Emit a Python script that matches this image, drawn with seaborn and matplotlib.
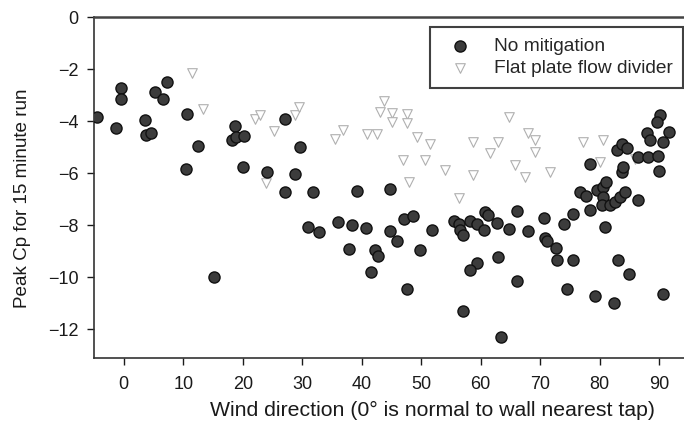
import numpy as np
import pandas as pd
import matplotlib
matplotlib.use("Agg")
import matplotlib.pyplot as plt
import seaborn as sns

# ---- data ----
nomit_x = [-4.5, -1.3, -0.5, -0.4, 3.5, 3.8, 4.6, 5.3, 6.6, 7.2, 10.6, 12.5, 10.5, 15.1,
           18.7, 18.2, 18.9, 20.3, 20.1, 24.1, 27.1, 27.1, 29.7, 28.8, 31.9, 31.0, 32.8,
           36.1, 38.4, 39.3, 40.8, 37.9, 42.3, 42.7, 41.6, 44.7, 44.8, 46.0, 47.2, 48.7,
           49.8, 47.6, 51.8, 55.5, 56.3, 56.6, 57.0, 58.2, 59.4, 60.5, 60.8, 61.3, 62.8,
           64.8, 66.1, 67.9, 70.7, 70.8, 71.2, 72.7, 72.9, 75.5, 74.0, 75.6, 78.4, 76.7,
           77.8, 79.5, 80.5, 81.1, 80.6, 80.4, 81.8, 82.6, 83.4, 84.3, 86.5, 80.9, 78.4,
           83.7, 84.0, 90.0, 86.5, 88.2, 89.9, 82.9, 83.7, 84.6, 87.9, 88.5, 90.6, 91.7,
           90.2, 89.7, 63.0, 59.4, 58.2, 57.0, 66.1, 74.6, 79.2, 82.4, 83.1, 84.9, 90.6,
           63.4]
nomit_y = [-3.86, -4.28, -2.72, -3.15, -3.97, -4.54, -4.47, -2.88, -3.14, -2.51, -3.72, -4.94,
           -5.85, -9.99, -4.18, -4.73, -4.60, -4.57, -5.76, -5.96, -3.90, -6.73, -4.99, -6.03,
           -6.72, -8.08, -8.26, -7.86, -8.00, -6.69, -8.12, -8.90, -8.94, -9.20, -9.79, -6.60,
           -8.22, -8.59, -7.76, -7.64, -8.96, -10.44, -8.19, -7.82, -7.94, -8.19, -8.36, -7.83,
           -7.94, -8.17, -7.51, -7.59, -7.91, -8.13, -7.45, -8.24, -7.74, -8.49, -8.60, -8.86,
           -9.35, -9.32, -7.97, -7.58, -7.42, -6.72, -6.88, -6.65, -6.53, -6.33, -6.91, -7.23,
           -7.23, -7.10, -6.91, -6.72, -7.04, -8.06, -5.65, -5.95, -5.76, -5.91, -5.37, -5.37,
           -5.35, -5.12, -4.86, -5.05, -4.47, -4.73, -4.80, -4.41, -3.77, -4.03, -9.22, -9.44,
           -9.73, -11.30, -10.15, -10.46, -10.73, -10.97, -9.32, -9.86, -10.64, -12.30]

plate_x = [11.4, 13.3, 22.1, 22.9, 25.3, 23.9, 28.8, 29.4, 35.5, 36.9, 40.9, 42.6, 43.8,
           43.1, 45.1, 47.6, 45.1, 47.6, 49.3, 51.5, 47.0, 50.6, 54.0, 47.9, 58.8, 61.6,
           63.0, 64.7, 68.0, 69.2, 69.2, 65.8, 67.5, 71.7, 58.8, 56.3, 77.3, 80.6, 80.1,
           86.0]
plate_y = [-2.17, -3.55, -3.90, -3.77, -4.38, -6.37, -3.77, -3.45, -4.67, -4.35, -4.50, -4.50,
           -3.23, -3.64, -3.67, -3.74, -4.03, -4.06, -4.60, -4.86, -5.50, -5.50, -5.88, -6.33,
           -4.80, -5.24, -4.80, -3.83, -4.47, -4.73, -5.18, -5.69, -6.14, -5.95, -6.08, -6.97,
           -4.80, -4.73, -5.56, -5.44]

series_names = ["No mitigation", "Flat plate flow divider"]
x_ticks = [0, 10, 20, 30, 40, 50, 60, 70, 80, 90]
y_ticks = [-12, -10, -8, -6, -4, -2, 0]

df = pd.concat([
    pd.DataFrame({"x": nomit_x, "y": nomit_y, "series": series_names[0]}),
    pd.DataFrame({"x": plate_x, "y": plate_y, "series": series_names[1]}),
], ignore_index=True)

sns.set_style("ticks")
plt.rcParams["font.family"] = ["Liberation Sans", "DejaVu Sans"]

fig = plt.figure(figsize=(6.84, 4.33), dpi=100)
ax = fig.add_axes([94 / 684, 1 - 358 / 433, 1 - 94 / 684, (358 - 17) / 433])

sns.scatterplot(data=df[df.series == series_names[1]], x="x", y="y", ax=ax,
                marker="v", s=48, color="white", edgecolor="#b0b0b0",
                linewidth=0.8, label=series_names[1], zorder=2)
sns.scatterplot(data=df[df.series == series_names[0]], x="x", y="y", ax=ax,
                marker="o", s=64, color="#3c3c3c", edgecolor="#111111",
                linewidth=1.0, label=series_names[0], zorder=3)

ax.set_xlim(-5, 94.2)
ax.set_ylim(-13.1, 0)
ax.set_xticks(x_ticks)
ax.set_yticks(y_ticks)
ax.tick_params(axis="both", labelsize=13, colors="#1a1a1a", length=5, width=1.0)
ax.tick_params(axis="x", pad=8)
ax.tick_params(axis="y", pad=6)
ax.set_xlabel("Wind direction (0° is normal to wall nearest tap)", fontsize=15.3,
              color="#1a1a1a", labelpad=5)
ax.xaxis.set_label_coords((433 - 94) / 590, -0.126)
ax.set_ylabel("Peak Cp for 15 minute run", fontsize=13.6, color="#1a1a1a", labelpad=7)
ax.yaxis.set_label_coords(-0.106, (358 - 198) / 341)

for side in ["left", "bottom"]:
    ax.spines[side].set_linewidth(1.2)
    ax.spines[side].set_color("#333333")
ax.spines["top"].set_visible(True)
ax.spines["top"].set_linewidth(1.8)
ax.spines["top"].set_color("#444444")
ax.spines["right"].set_visible(False)

handles, labels = ax.get_legend_handles_labels()
order = [labels.index(n) for n in series_names]
leg = ax.legend([handles[i] for i in order], [labels[i] for i in order],
                loc="upper right", bbox_to_anchor=(0.9985, 0.97), fontsize=13.8,
                frameon=True, fancybox=False, edgecolor="#111111",
                handletextpad=0.75, borderpad=0.55, labelspacing=0.25,
                borderaxespad=0.0)
leg.get_frame().set_linewidth(1.5)

fig.savefig("out.png", dpi=100)
